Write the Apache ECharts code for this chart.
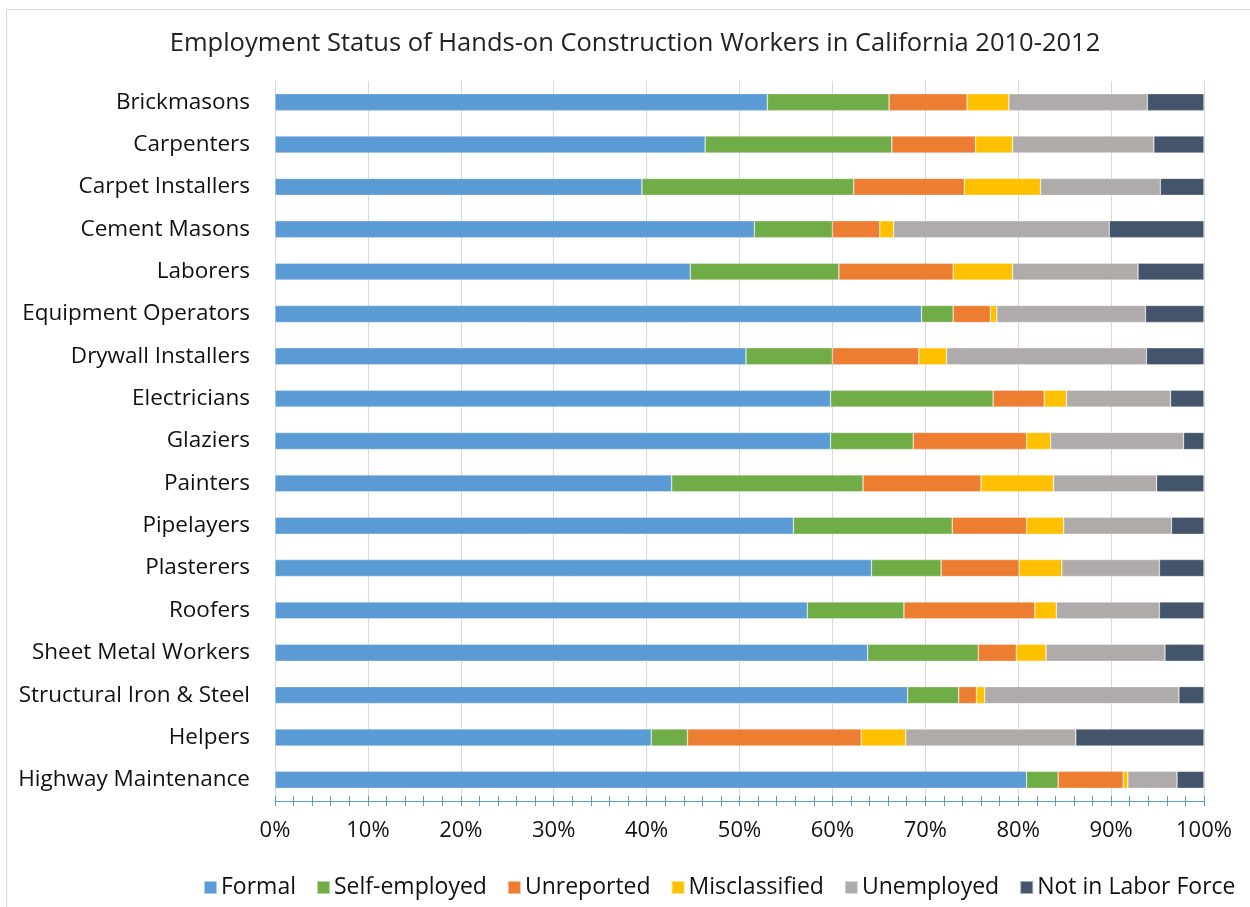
<!DOCTYPE html>
<html lang="en">
<head>
    <meta charset="UTF-8">
    <title>Employment Status of Hands-on Construction Workers</title>
    <script src="https://cdn.jsdelivr.net/npm/echarts@6/dist/echarts.min.js"></script>
    <style>
        html, body { margin: 0; padding: 0; background: #fff; }
        #main { width: 1250px; height: 907px; }
    </style>
</head>
<body>
<div id="main"></div>
<script type="text/javascript">
    // trades, top to bottom
    var trades = ['Brickmasons', 'Carpenters', 'Carpet Installers', 'Cement Masons', 'Laborers',
        'Equipment Operators', 'Drywall Installers', 'Electricians', 'Glaziers', 'Painters',
        'Pipelayers', 'Plasterers', 'Roofers', 'Sheet Metal Workers', 'Structural Iron & Steel',
        'Helpers', 'Highway Maintenance'];

    // shares in percent, same order as trades
    var formal        = [53.0, 46.3, 39.5, 51.6, 44.7, 69.6, 50.7, 59.8, 59.8, 42.7, 55.8, 64.2, 57.3, 63.8, 68.1, 40.5, 80.9];
    var selfEmployed  = [13.1, 20.1, 22.8,  8.4, 16.0,  3.4,  9.3, 17.5,  8.9, 20.6, 17.1,  7.5, 10.4, 11.9,  5.5,  3.9,  3.4];
    var unreported    = [ 8.4,  9.0, 11.9,  5.1, 12.3,  4.0,  9.3,  5.5, 12.2, 12.7,  8.0,  8.4, 14.1,  4.1,  1.9, 18.7,  7.0];
    var misclassified = [ 4.5,  4.0,  8.2,  1.5,  6.4,  0.7,  3.0,  2.4,  2.6,  7.8,  4.0,  4.6,  2.3,  3.2,  0.9,  4.8,  0.5];
    var unemployed    = [14.9, 15.2, 12.9, 23.2, 13.5, 16.0, 21.5, 11.2, 14.3, 11.1, 11.6, 10.5, 11.1, 12.8, 20.9, 18.3,  5.3];
    var notInLabor    = [ 6.1,  5.4,  4.7, 10.2,  7.1,  6.3,  6.2,  3.6,  2.2,  5.1,  3.5,  4.8,  4.8,  4.2,  2.7, 13.8,  2.9];

    var seriesNames = ['Formal', 'Self-employed', 'Unreported', 'Misclassified', 'Unemployed', 'Not in Labor Force'];
    var seriesData = [formal, selfEmployed, unreported, misclassified, unemployed, notInLabor];
    var colors = ['#5B9BD5', '#70AD47', '#ED7D31', '#FFC000', '#AFABAB', '#44546A'];

    var font = '"Open Sans", Lato, sans-serif';
    var myChart = echarts.init(document.getElementById('main'));

    var series = [];
    for (var i = 0; i < seriesNames.length; i++) {
        series.push({
            name: seriesNames[i],
            type: 'bar',
            stack: 'total',
            barWidth: 17,
            xAxisIndex: 0,
            itemStyle: { color: colors[i], borderColor: 'rgba(255,255,255,0.5)', borderWidth: 0.6 },
            data: seriesData[i]
        });
    }

    var option = {
        animation: false,
        color: colors,
        graphic: [{
            type: 'rect',
            shape: { x: 6.5, y: 9.5, width: 1300, height: 1000 },
            style: { fill: 'none', stroke: '#D9D9D9', lineWidth: 1 },
            silent: true, z: -10
        }],
        title: {
            text: 'Employment Status of Hands-on Construction Workers in California 2010-2012',
            left: 630, top: 26, textAlign: 'center',
            textStyle: { fontFamily: font, fontSize: 25.5, fontWeight: 'normal', color: '#222' }
        },
        legend: {
            data: seriesNames,
            left: 198, top: 871,
            itemWidth: 13, itemHeight: 13, itemGap: 20,
            icon: 'rect',
            textStyle: { fontFamily: font, fontSize: 23, color: '#111', padding: [0, 0, 0, -1] }
        },
        grid: { left: 275, right: 46, top: 81, bottom: 106, containLabel: false },
        xAxis: [{
            type: 'value', min: 0, max: 100, interval: 10,
            axisLabel: { formatter: '{value}%', fontFamily: font, fontSize: 22, color: '#111', margin: 19 },
            axisLine: { show: true, lineStyle: { color: '#5B9BD5', width: 1 } },
            axisTick: { show: true, length: 5, lineStyle: { color: '#5B9BD5' } },
            minorTick: { show: true, splitNumber: 5, length: 5, lineStyle: { color: '#5B9BD5' } },
            splitLine: { show: true, lineStyle: { color: '#D9D9D9', width: 1 } }
        }, {
            type: 'value', min: 0, max: 100, interval: 10, position: 'bottom',
            axisLabel: { show: false },
            axisLine: { show: false },
            axisTick: { show: true, inside: true, length: 5, lineStyle: { color: '#5B9BD5' } },
            minorTick: { show: true, splitNumber: 5, length: 5, lineStyle: { color: '#5B9BD5' } },
            splitLine: { show: false }
        }],
        yAxis: {
            type: 'category', data: trades, inverse: true,
            axisLine: { show: false }, axisTick: { show: false },
            axisLabel: { fontFamily: font, fontSize: 22.5, color: '#111', margin: 25, padding: [7, 0, 0, 0] }
        },
        series: series
    };
    myChart.setOption(option);
</script>
</body>
</html>
